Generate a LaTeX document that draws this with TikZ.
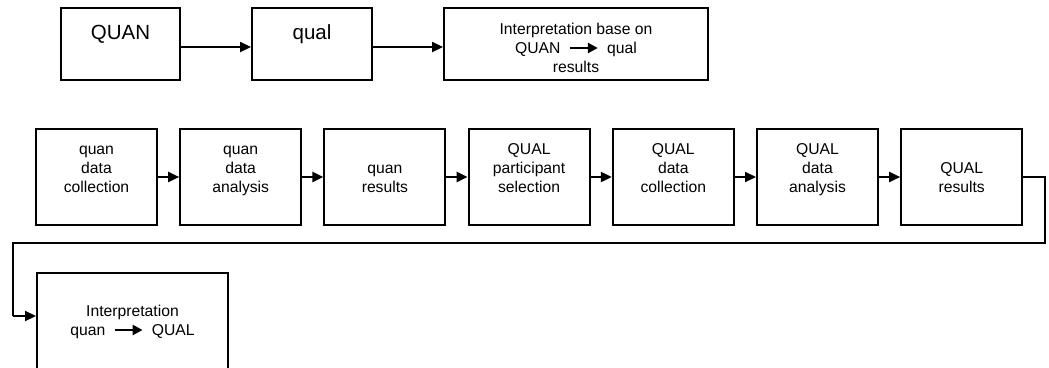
\documentclass[tikz,border=0pt]{standalone}
\usepackage{fontspec}
\setmainfont{Liberation Sans}
\usetikzlibrary{arrows.meta}

% small thick arrow used inside the labels
\newsavebox\flowarrow
\savebox{\flowarrow}{\tikz[baseline=0pt]\draw[line width=2.6pt,-{Triangle[length=10pt,width=10pt]}] (0pt,5.5pt) -- (28pt,5.5pt);}
\newcommand\flow{\hspace{8pt}\usebox{\flowarrow}\hspace{8pt}}

\begin{document}
\begin{tikzpicture}[x=1pt,y=-1pt,
  box/.style={draw=black,line width=2pt,rectangle,inner sep=0pt,fill=white},
  big/.style={font=\fontsize{20.5}{24}\selectfont,inner sep=0pt,anchor=base},
  txt/.style={font=\fontsize{15.7}{19}\selectfont,align=center,inner sep=0pt},
  conn/.style={line width=2.2pt,-{Triangle[length=11pt,width=10pt]}},
  elbow/.style={line width=2.2pt}]
\useasboundingbox (0,0) rectangle (1049,367);
\clip (0,0) rectangle (1049,367);

% ---- top row
\node[box,minimum width=119pt,minimum height=72pt] (t1) at (120.5,44) {};
\node[box,minimum width=120pt,minimum height=72pt] (t2) at (312,44) {};
\node[box,minimum width=264pt,minimum height=72pt] (t3) at (576,44) {};
\node[big] (t1l) at (120.5,39) {QUAN};
\node[big] (t2l) at (312,39) {qual};
\node[txt] (t3l) at (576,49.7) {\strut Interpretation base on\\\strut QUAN\flow qual\\\strut results};
\draw[conn] (t1.east |- 0,47) -- (t2.west |- 0,47);
\draw[conn] (t2.east |- 0,47) -- (t3.west |- 0,47);

% ---- sequence of steps
\foreach \i/\lab/\ty in {
  1/{\strut quan\\\strut data\\\strut collection}/169.2,
  2/{\strut quan\\\strut data\\\strut analysis}/169.2,
  3/{\strut quan\\\strut results}/178.7,
  4/{\strut QUAL\\\strut participant\\\strut selection}/169.2,
  5/{\strut QUAL\\\strut data\\\strut collection}/169.2,
  6/{\strut QUAL\\\strut data\\\strut analysis}/169.2,
  7/{\strut QUAL\\\strut results}/178.7}{
  \node[box,minimum width=121pt,minimum height=96pt] (b\i) at ({96.5+144.2*(\i-1)},177) {};
  \node[txt] (b\i l) at ({96.5+144.2*(\i-1)},\ty) {\lab};
}
\foreach \a/\b in {1/2,2/3,3/4,4/5,5/6,6/7}
  \draw[conn] (b\a.east) -- (b\b.west);

% ---- final interpretation
\node[box,minimum width=191pt,minimum height=120pt] (fin) at (132.5,333) {};
\node[txt] (finl) at (132.5,322.2) {\strut Interpretation\\\strut quan\flow QUAL};

% ---- return connector
\coordinate (rr) at (1045,243);
\coordinate (ll) at (13,316);
\draw[elbow] (b7.east) -| (rr) -| (ll);
\draw[conn] (ll) -- (fin.west |- ll);
\end{tikzpicture}
\end{document}
